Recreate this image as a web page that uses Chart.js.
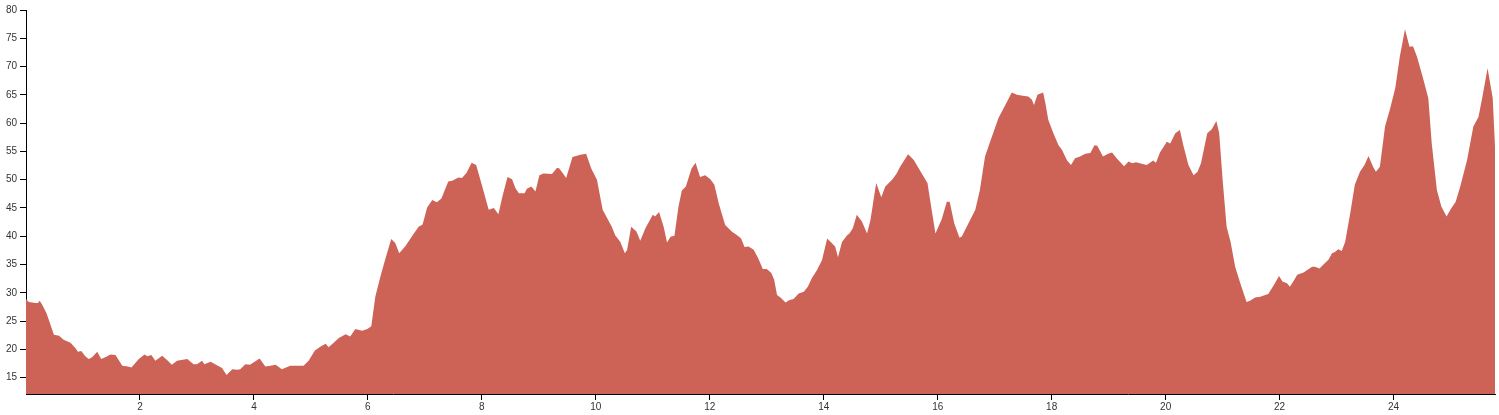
<!DOCTYPE html>
<html lang="en">
<head>
    <meta charset="UTF-8">
    <title>Area chart</title>
    <script src="https://cdn.jsdelivr.net/npm/chart.js"></script>
    <style>
        html, body { margin: 0; padding: 0; background: #FFFFFF; }
        #wrap { width: 1499px; height: 415px; position: relative; }
    </style>
</head>
<body>
<div id="wrap"><canvas id="areaChart"></canvas></div>
<script>
    // Data
    const xValues = [
        0, 0.05, 0.17, 0.21, 0.24, 0.28, 0.36, 0.49, 0.58, 0.66, 0.78, 0.87, 0.91, 0.97,
        1.04, 1.10, 1.16, 1.25, 1.32, 1.41, 1.48, 1.57, 1.69, 1.79, 1.85, 1.98,
        2.08, 2.13, 2.20, 2.27, 2.39, 2.48, 2.56, 2.65, 2.83, 2.94,
        3.00, 3.09, 3.13, 3.24, 3.35, 3.44, 3.52, 3.62, 3.71, 3.76, 3.85, 3.93,
        4.10, 4.20, 4.29, 4.38, 4.49, 4.64, 4.87, 4.96,
        5.07, 5.17, 5.26, 5.31, 5.40, 5.49, 5.61, 5.69, 5.78, 5.90, 5.99,
        6.06, 6.13, 6.22, 6.31, 6.41, 6.48, 6.55, 6.66, 6.78, 6.89, 6.96,
        7.04, 7.13, 7.21, 7.29, 7.41, 7.48, 7.59, 7.65, 7.73, 7.82, 7.90, 7.99,
        8.12, 8.21, 8.29, 8.36, 8.45, 8.53, 8.59, 8.65, 8.75, 8.79, 8.87, 8.94,
        9.01, 9.08, 9.23, 9.32, 9.36, 9.48, 9.59, 9.73, 9.83, 9.92,
        10.02, 10.12, 10.20, 10.28, 10.34, 10.43, 10.51, 10.55, 10.62, 10.71, 10.78, 10.87,
        11.00, 11.04, 11.11, 11.19, 11.25, 11.31, 11.38, 11.45, 11.51, 11.58, 11.68, 11.75, 11.83, 11.92,
        12.01, 12.08, 12.16, 12.27, 12.39, 12.48, 12.55, 12.61, 12.68, 12.77, 12.85, 12.93,
        13.00, 13.08, 13.13, 13.18, 13.24, 13.33, 13.39, 13.47, 13.56, 13.65, 13.72, 13.79, 13.88, 13.97,
        14.06, 14.14, 14.20, 14.25, 14.32, 14.41, 14.45, 14.51, 14.58, 14.67, 14.76, 14.82, 14.92,
        15.01, 15.08, 15.20, 15.28, 15.34, 15.48, 15.58, 15.72, 15.82, 15.89, 15.96,
        16.07, 16.16, 16.21, 16.29, 16.38, 16.42, 16.54, 16.66, 16.74, 16.83, 16.93,
        17.07, 17.15, 17.30, 17.39, 17.52, 17.59, 17.65, 17.69, 17.75, 17.85, 17.89, 17.94,
        18.03, 18.12, 18.18, 18.27, 18.34, 18.41, 18.50, 18.59, 18.68, 18.75, 18.80, 18.90, 18.99,
        19.06, 19.14, 19.27, 19.35, 19.41, 19.48, 19.58, 19.67, 19.78, 19.83, 19.90,
        20.02, 20.08, 20.17, 20.25, 20.31, 20.40, 20.49, 20.56, 20.62, 20.68, 20.73, 20.81, 20.89, 20.94,
        21.00, 21.07, 21.14, 21.22, 21.31, 21.42, 21.48, 21.57, 21.66, 21.80, 21.90, 21.99,
        22.05, 22.13, 22.18, 22.24, 22.31, 22.42, 22.48, 22.57, 22.62, 22.70, 22.77, 22.86, 22.92, 22.97,
        23.03, 23.09, 23.15, 23.24, 23.32, 23.41, 23.49, 23.56, 23.64, 23.69, 23.76, 23.85, 23.94,
        24.03, 24.11, 24.20, 24.28, 24.34, 24.41, 24.51, 24.61, 24.67, 24.76, 24.84, 24.93,
        25.01, 25.09, 25.17, 25.29, 25.40, 25.49, 25.56, 25.65, 25.74, 25.78
    ];
    const yValues = [
        28.9, 28.4, 28.2, 28.2, 28.6, 28.0, 26.4, 22.6, 22.4, 21.7, 21.2, 20.2, 19.6, 19.7,
        18.8, 18.3, 18.6, 19.6, 18.3, 18.7, 19.1, 19.0, 17.1, 17.0, 16.8, 18.3,
        19.1, 18.8, 19.0, 18.0, 18.9, 18.1, 17.3, 18.0, 18.3, 17.4,
        17.4, 18.0, 17.4, 17.8, 17.2, 16.7, 15.5, 16.5, 16.4, 16.5, 17.4, 17.3,
        18.4, 17.0, 17.1, 17.3, 16.5, 17.1, 17.1, 18.0,
        19.8, 20.5, 21.0, 20.4, 21.2, 22.0, 22.7, 22.3, 23.6, 23.3, 23.6,
        24.1, 29.3, 32.9, 36.1, 39.5, 38.8, 37.0, 38.3, 40.1, 41.7, 42.1,
        45.1, 46.4, 46.0, 46.7, 49.7, 49.8, 50.4, 50.3, 51.2, 53.0, 52.6, 49.4,
        44.7, 45.0, 43.9, 47.0, 50.5, 50.1, 48.5, 47.6, 47.6, 48.4, 48.8, 47.9,
        50.8, 51.1, 51.0, 52.1, 52.0, 50.3, 54.0, 54.4, 54.6, 52.0,
        50.0, 44.7, 43.2, 41.7, 40.2, 39.0, 37.0, 37.6, 41.7, 40.9, 39.2, 41.4,
        43.8, 43.5, 44.3, 41.7, 38.9, 39.9, 40.1, 45.2, 48.1, 48.8, 52.0, 53.0, 50.5, 50.8,
        50.1, 49.1, 45.7, 42.0, 40.8, 40.2, 39.6, 38.1, 38.2, 37.6, 36.1, 34.2,
        34.2, 33.5, 32.3, 29.6, 29.2, 28.3, 28.7, 28.9, 29.9, 30.2, 31.1, 32.6, 34.0, 35.8,
        39.6, 38.8, 38.2, 36.3, 39.0, 40.2, 40.5, 41.4, 43.8, 42.6, 40.5, 42.9, 49.4,
        46.9, 48.8, 50.0, 51.1, 52.3, 54.5, 53.5, 51.1, 49.4, 44.9, 40.5,
        43.0, 46.1, 46.1, 42.3, 39.8, 39.9, 42.3, 44.7, 48.2, 54.1, 57.0,
        61.0, 62.5, 65.4, 65.0, 64.8, 64.7, 64.2, 63.2, 65.0, 65.4, 63.5, 60.6,
        58.2, 56.1, 55.3, 53.4, 52.6, 53.8, 54.1, 54.6, 54.7, 56.1, 56.0, 54.1, 54.6,
        54.8, 53.8, 52.4, 53.2, 52.9, 53.1, 52.8, 52.6, 53.4, 53.0, 54.8,
        56.7, 56.4, 58.2, 58.8, 56.1, 52.6, 50.8, 51.4, 52.9, 55.8, 58.2, 58.9, 60.4, 58.2,
        50.0, 41.7, 39.0, 34.6, 31.7, 28.4, 28.6, 29.2, 29.3, 29.8, 31.4, 33.0,
        32.0, 31.7, 31.1, 32.0, 33.2, 33.6, 34.0, 34.6, 34.6, 34.3, 35.0, 35.9, 37.0, 37.2,
        37.7, 37.4, 39.0, 44.1, 49.1, 51.4, 52.6, 54.2, 52.3, 51.4, 52.3, 59.4, 62.6,
        66.2, 71.8, 76.6, 73.5, 73.6, 71.8, 68.2, 64.4, 56.4, 48.2, 45.2, 43.5,
        44.9, 46.1, 48.8, 53.5, 59.4, 61.1, 64.7, 69.7, 64.4, 55.8
    ];
    const xTicks = [2, 4, 6, 8, 10, 12, 14, 16, 18, 20, 22, 24];
    const yTicks = [15, 20, 25, 30, 35, 40, 45, 50, 55, 60, 65, 70, 75, 80];

    const colors = {
        fill: '#CD6257',
        axis: '#000000',
        label: '#333333'
    };

    const points = xValues.map((x, i) => ({ x: x, y: yValues[i] }));
    const tickFont = { family: "'Liberation Sans', Arial, sans-serif", size: 10 };

    new Chart(document.getElementById('areaChart'), {
        type: 'line',
        data: {
            datasets: [{
                data: points,
                fill: 'start',
                backgroundColor: colors.fill,
                borderWidth: 0,
                pointRadius: 0,
                tension: 0
            }]
        },
        options: {
            responsive: true,
            maintainAspectRatio: false,
            animation: false,
            layout: { padding: { top: 10, right: 4, left: 0, bottom: 0 } },
            plugins: { legend: { display: false }, tooltip: { enabled: false } },
            scales: {
                x: {
                    type: 'linear',
                    min: 0,
                    max: 25.78,
                    afterBuildTicks: s => { s.ticks = xTicks.map(v => ({ value: v })); },
                    afterFit: s => { s.height = 21; },
                    grid: { drawOnChartArea: false, drawTicks: true, tickLength: 6, color: colors.axis },
                    border: { display: true, color: colors.axis, width: 1 },
                    ticks: { color: colors.label, font: tickFont, padding: 1, maxRotation: 0 }
                },
                y: {
                    min: 12.12,
                    max: 80,
                    afterBuildTicks: s => { s.ticks = yTicks.map(v => ({ value: v })); },
                    afterFit: s => { s.width = 26; },
                    grid: { drawOnChartArea: false, drawTicks: true, tickLength: 6, color: colors.axis },
                    border: { display: true, color: colors.axis, width: 1 },
                    ticks: { color: colors.label, font: tickFont, padding: 3 }
                }
            }
        }
    });
</script>
</body>
</html>
